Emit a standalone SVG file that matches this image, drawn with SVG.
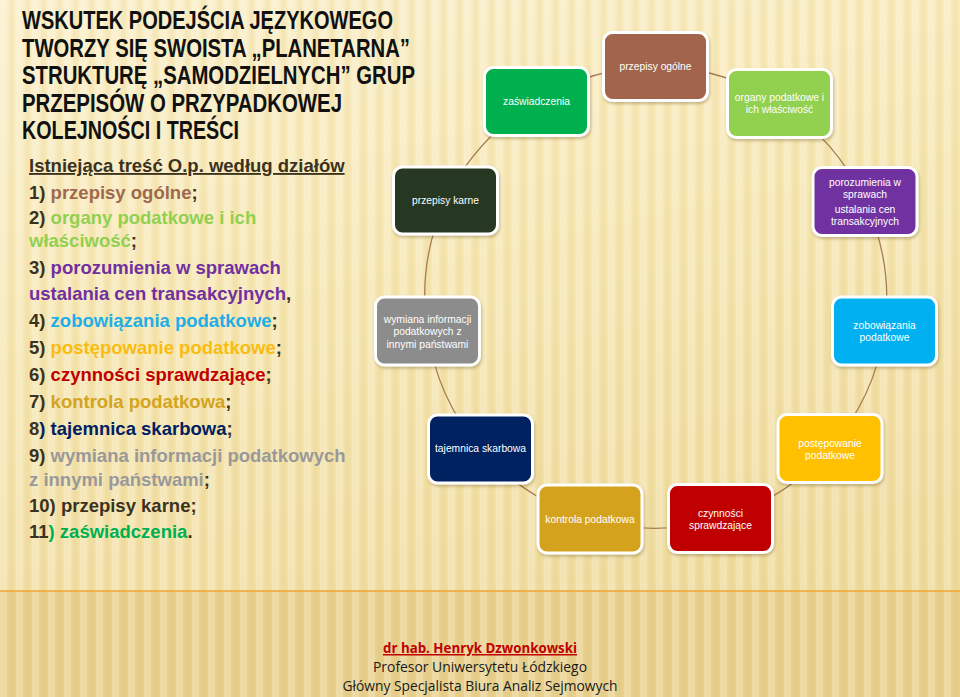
<svg xmlns="http://www.w3.org/2000/svg" width="960" height="697" viewBox="0 0 960 697">
<defs>
<linearGradient id="bg" x1="0" y1="0" x2="0.3" y2="1">
<stop offset="0" stop-color="#FBEFC8"/>
<stop offset="0.5" stop-color="#F6E6B0"/>
<stop offset="1" stop-color="#EFDB9C"/>
</linearGradient>
<pattern id="stripes" x="0" y="0" width="16" height="697" patternUnits="userSpaceOnUse">
<rect x="0" y="0" width="7" height="697" fill="#FFFFFF" opacity="0.22"/>
<rect x="9" y="0" width="5" height="697" fill="#C9A64A" opacity="0.08"/>
</pattern>
<filter id="sh" x="-10%" y="-10%" width="125%" height="130%">
<feDropShadow dx="1" dy="2" stdDeviation="1.5" flood-color="#6B5520" flood-opacity="0.35"/>
</filter>
<style>
.node rect{stroke:#FFFFFF;stroke-width:3;filter:url(#sh)}
.node text{font-family:"Liberation Sans",Arial,sans-serif;font-size:10.3px;fill:#FFFFFF;text-anchor:middle}
.conn path{fill:none;stroke:#A67C52;stroke-width:1.3}
.title{font-family:"Liberation Sans",Arial,sans-serif;font-weight:bold;font-size:25px;fill:#111111}
.list{font-family:"Liberation Sans",Arial,sans-serif;font-weight:bold;font-size:18.5px;fill:#3B321E}
.foot{font-family:"Open Sans","Liberation Sans",sans-serif;font-size:15px;fill:#1A1A1A;text-anchor:middle}
</style>
</defs>
<rect x="0" y="0" width="960" height="697" fill="url(#bg)"/>
<rect x="0" y="591" width="960" height="106" fill="#E8D08C"/>
<rect x="0" y="0" width="960" height="697" fill="url(#stripes)"/>
<line x1="0" y1="591" x2="960" y2="591" stroke="#F0A535" stroke-width="1.5"/>

<g id="title">
<text class="title" x="22" y="29" textLength="371" lengthAdjust="spacingAndGlyphs">WSKUTEK PODEJŚCIA JĘZYKOWEGO</text>
<text class="title" x="22" y="56.5" textLength="388" lengthAdjust="spacingAndGlyphs">TWORZY SIĘ SWOISTA „PLANETARNA”</text>
<text class="title" x="22" y="84" textLength="393" lengthAdjust="spacingAndGlyphs">STRUKTURĘ „SAMODZIELNYCH” GRUP</text>
<text class="title" x="22" y="111.5" textLength="320" lengthAdjust="spacingAndGlyphs">PRZEPISÓW O PRZYPADKOWEJ</text>
<text class="title" x="22" y="139" textLength="217" lengthAdjust="spacingAndGlyphs">KOLEJNOŚCI I TREŚCI</text>
</g>

<g id="list">
<text class="list" x="29" y="172" text-decoration="underline">Istniejąca treść O.p. według  działów</text>
<text class="list" x="29" y="199">1) <tspan fill="#9E6A4E">przepisy ogólne</tspan>;</text>
<text class="list" x="29" y="224">2) <tspan fill="#92D050">organy podatkowe i ich</tspan></text>
<text class="list" x="29" y="247"><tspan fill="#92D050">właściwość</tspan>;</text>
<text class="list" x="29" y="274"><tspan>3) </tspan><tspan fill="#7030A0">porozumienia w sprawach</tspan></text>
<text class="list" x="29" y="300"><tspan fill="#7030A0">ustalania cen transakcyjnych</tspan>,</text>
<text class="list" x="29" y="327">4) <tspan fill="#1FAEE6">zobowiązania podatkowe</tspan>;</text>
<text class="list" x="29" y="354">5) <tspan fill="#F8BC12">postępowanie podatkowe</tspan>;</text>
<text class="list" x="29" y="381">6) <tspan fill="#C00000">czynności sprawdzające</tspan>;</text>
<text class="list" x="29" y="408">7) <tspan fill="#D4A420">kontrola podatkowa</tspan>;</text>
<text class="list" x="29" y="435">8<tspan fill="#002060">) tajemnica skarbowa</tspan>;</text>
<text class="list" x="29" y="462">9) <tspan fill="#999999">wymiana informacji podatkowych</tspan></text>
<text class="list" x="29" y="486"><tspan fill="#999999">z innymi państwami</tspan>;</text>
<text class="list" x="29" y="512" fill="#26301C">10) przepisy karne;</text>
<text class="list" x="29" y="538">11<tspan fill="#00B050">) zaświadczenia</tspan>.</text>
</g>

<g id="connectors" class="conn">
<path d="M655.5,66.5 A231,231 0 0 1 779.5,103.5"/>
<path d="M779.5,103.5 A231,231 0 0 1 865,201.5"/>
<path d="M865,201.5 A231,231 0 0 1 884.5,331"/>
<path d="M884.5,331 A231,231 0 0 1 830,448.5"/>
<path d="M830,448.5 A231,231 0 0 1 720.5,518.5"/>
<path d="M720.5,518.5 A231,231 0 0 1 590,519"/>
<path d="M590,519 A231,231 0 0 1 480.5,449"/>
<path d="M480.5,449 A231,231 0 0 1 427.5,331"/>
<path d="M427.5,331 A231,231 0 0 1 445.5,200.5"/>
<path d="M445.5,200.5 A231,231 0 0 1 536.5,101.5"/>
<path d="M536.5,101.5 A231,231 0 0 1 655.5,66.5"/>
</g>

<g id="n-przepisy-ogolne" class="node">
<rect x="603.5" y="32.5" width="104" height="68" rx="9" fill="#A2654C"/>
<text x="655.5" y="70">przepisy ogólne</text>
</g>
<g id="n-organy" class="node">
<rect x="727.5" y="69.5" width="104" height="68" rx="9" fill="#92D050"/>
<text x="779.5" y="100.5">organy podatkowe i</text>
<text x="779.5" y="112.5">ich właściwość</text>
</g>
<g id="n-porozumienia" class="node">
<rect x="813" y="167.5" width="104" height="68" rx="9" fill="#7030A0"/>
<text x="865" y="185.5">porozumienia w</text>
<text x="865" y="197.5">sprawach</text>
<text x="865" y="212.5">ustalania cen</text>
<text x="865" y="224.5">transakcyjnych</text>
</g>
<g id="n-zobowiazania" class="node">
<rect x="832.5" y="297" width="104" height="68" rx="9" fill="#00B0F0"/>
<text x="884.5" y="328.5">zobowiązania</text>
<text x="884.5" y="340.5">podatkowe</text>
</g>
<g id="n-postepowanie" class="node">
<rect x="778" y="414.5" width="104" height="68" rx="9" fill="#FFC000"/>
<text x="830" y="446.5">postępowanie</text>
<text x="830" y="458.5">podatkowe</text>
</g>
<g id="n-czynnosci" class="node">
<rect x="668.5" y="484.5" width="104" height="68" rx="9" fill="#C00000"/>
<text x="720.5" y="516.5">czynności</text>
<text x="720.5" y="528.5">sprawdzające</text>
</g>
<g id="n-kontrola" class="node">
<rect x="538" y="485" width="104" height="68" rx="9" fill="#D4A21B"/>
<text x="590" y="522.5">kontrola podatkowa</text>
</g>
<g id="n-tajemnica" class="node">
<rect x="428.5" y="415" width="104" height="68" rx="9" fill="#002060"/>
<text x="480.5" y="452">tajemnica skarbowa</text>
</g>
<g id="n-wymiana" class="node">
<rect x="375.5" y="297" width="104" height="68" rx="9" fill="#8C8C8C"/>
<text x="427.5" y="322.5">wymiana informacji</text>
<text x="427.5" y="335">podatkowych z</text>
<text x="427.5" y="347.5">innymi państwami</text>
</g>
<g id="n-przepisy-karne" class="node">
<rect x="393.5" y="167" width="104" height="67" rx="9" fill="#283823"/>
<text x="445.5" y="204">przepisy karne</text>
</g>
<g id="n-zaswiadczenia" class="node">
<rect x="484.5" y="67.5" width="104" height="68" rx="9" fill="#00B050"/>
<text x="536.5" y="105">zaświadczenia</text>
</g>

<g id="footer">
<text class="foot" x="480" y="653" font-weight="bold" text-decoration="underline" style="fill:#C00000" textLength="194" lengthAdjust="spacingAndGlyphs">dr hab. Henryk Dzwonkowski</text>
<text class="foot" x="480" y="672" textLength="214" lengthAdjust="spacingAndGlyphs">Profesor Uniwersytetu Łódzkiego</text>
<text class="foot" x="480" y="691" textLength="275" lengthAdjust="spacingAndGlyphs">Główny Specjalista Biura Analiz Sejmowych</text>
</g>
</svg>
